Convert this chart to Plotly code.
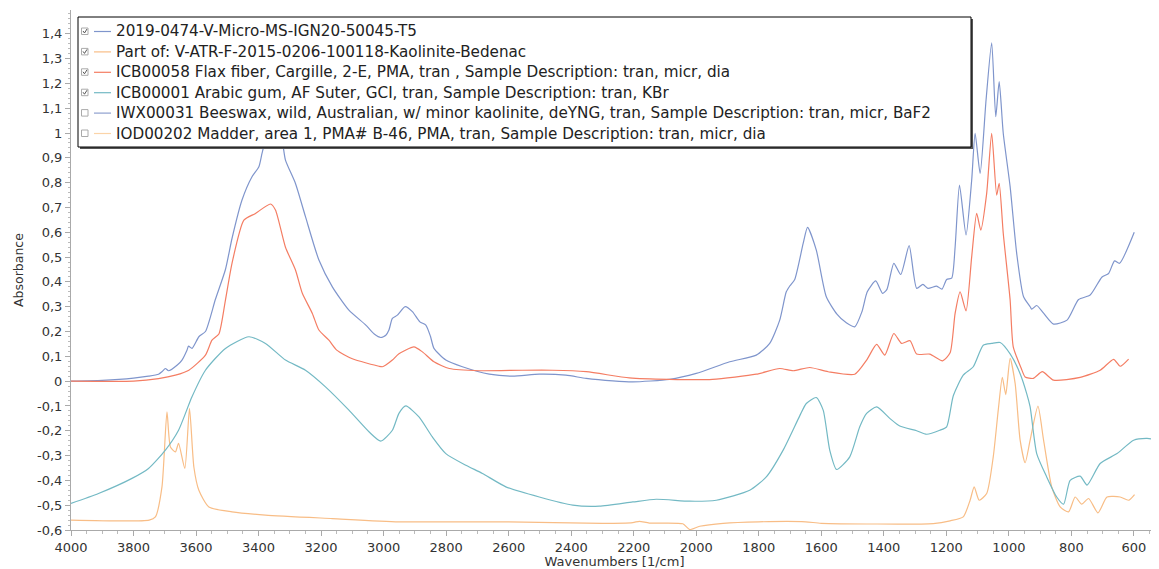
import plotly.graph_objects as go

# --- spectra (wavenumber, absorbance) ---
SAMPLE_X = [4000, 3900, 3800, 3752, 3720, 3709, 3698, 3688, 3660, 3645, 3629, 3624, 3613, 3591,
            3570, 3538, 3506, 3485, 3453, 3421, 3399, 3389, 3378, 3350, 3325, 3314, 3282, 3250,
            3207, 3164, 3111, 3057, 3030, 3009, 2993, 2983, 2972, 2956, 2931, 2908, 2884, 2865,
            2850, 2839, 2801, 2748, 2662, 2588, 2502, 2417, 2352, 2267, 2203, 2086, 2000, 1893,
            1808, 1765, 1733, 1712, 1700, 1685, 1658, 1644, 1616, 1584, 1550, 1520, 1493, 1470,
            1453, 1426, 1404, 1390, 1368, 1346, 1319, 1295, 1275, 1259, 1231, 1214, 1199, 1183,
            1172, 1158, 1137, 1119, 1108, 1092, 1073, 1055, 1042, 1031, 1018, 996, 975, 953, 932,
            927, 911, 889, 857, 814, 777, 740, 702, 681, 662, 646, 599]
SAMPLE_Y = [0.0, 0.003, 0.012, 0.02, 0.028, 0.038, 0.051, 0.042, 0.065, 0.085, 0.125, 0.141, 0.132,
            0.179, 0.2, 0.33, 0.45, 0.575, 0.73, 0.824, 0.864, 0.918, 0.972, 1.05, 0.972, 0.891,
            0.797, 0.663, 0.488, 0.38, 0.286, 0.226, 0.19, 0.176, 0.185, 0.206, 0.253, 0.266, 0.3,
            0.28, 0.239, 0.226, 0.18, 0.132, 0.085, 0.058, 0.028, 0.02, 0.028, 0.024, 0.011, 0.001,
            -0.003, 0.007, 0.031, 0.078, 0.105, 0.152, 0.246, 0.36, 0.385, 0.41, 0.555, 0.62, 0.528,
            0.34, 0.27, 0.235, 0.219, 0.28, 0.36, 0.404, 0.354, 0.37, 0.475, 0.43, 0.546, 0.374,
            0.39, 0.374, 0.383, 0.371, 0.41, 0.415, 0.54, 0.79, 0.589, 0.81, 0.999, 0.837, 1.133,
            1.364, 1.066, 1.207, 0.999, 0.784, 0.515, 0.34, 0.3, 0.29, 0.305, 0.274, 0.23, 0.246,
            0.329, 0.347, 0.42, 0.434, 0.485, 0.475, 0.6]

KAOL_X = [4000, 3750, 3730, 3709, 3693, 3682, 3666, 3656, 3636, 3621, 3607, 3591, 3559, 3485, 3378,
          3164, 2951, 2600, 2300, 2203, 2182, 2150, 2043, 2021, 1989, 1914, 1800, 1650, 1600, 1242,
          1188, 1146, 1124, 1111, 1095, 1071, 1050, 1034, 1021, 1010, 996, 980, 964, 948, 932, 907,
          889, 863, 836, 809, 788, 767, 745, 715, 686, 644, 617, 598]
KAOL_Y = [-0.56, -0.56, -0.547, -0.426, -0.124, -0.265, -0.285, -0.251, -0.352, -0.11, -0.346, -0.44,
          -0.507, -0.527, -0.54, -0.554, -0.567, -0.567, -0.573, -0.57, -0.565, -0.572, -0.575,
          -0.598, -0.585, -0.573, -0.567, -0.567, -0.573, -0.574, -0.563, -0.547, -0.48, -0.426,
          -0.48, -0.453, -0.305, -0.117, 0.015, -0.054, 0.092, -0.009, -0.238, -0.329, -0.238,
          -0.101, -0.238, -0.426, -0.507, -0.527, -0.467, -0.496, -0.473, -0.531, -0.467, -0.467,
          -0.48, -0.457]

FLAX_X = [4000, 3800, 3720, 3666, 3623, 3570, 3549, 3527, 3506, 3485, 3447, 3410, 3362, 3346, 3314,
          3282, 3260, 3228, 3207, 3175, 3150, 3100, 3015, 3004, 2993, 2972, 2951, 2903, 2876, 2839,
          2790, 2694, 2556, 2460, 2352, 2214, 2086, 1948, 1808, 1733, 1690, 1637, 1578, 1493, 1455,
          1423, 1397, 1368, 1343, 1316, 1295, 1253, 1212, 1188, 1172, 1156, 1137, 1119, 1103, 1090,
          1071, 1055, 1039, 1031, 1018, 996, 986, 960, 948, 922, 893, 857, 772, 708, 665, 644, 617]
FLAX_Y = [0.0, 0.0, 0.01, 0.024, 0.044, 0.105, 0.165, 0.19, 0.327, 0.475, 0.649, 0.676, 0.714, 0.69,
          0.54, 0.448, 0.354, 0.273, 0.206, 0.165, 0.125, 0.09, 0.06, 0.058, 0.065, 0.085, 0.11,
          0.138, 0.118, 0.078, 0.051, 0.042, 0.044, 0.044, 0.038, 0.013, 0.007, 0.007, 0.028, 0.051,
          0.042, 0.055, 0.038, 0.028, 0.085, 0.148, 0.105, 0.192, 0.152, 0.163, 0.109, 0.109, 0.082,
          0.114, 0.273, 0.36, 0.283, 0.501, 0.676, 0.609, 0.757, 0.999, 0.75, 0.797, 0.596, 0.327,
          0.138, 0.05, 0.017, 0.011, 0.038, 0.004, 0.015, 0.044, 0.088, 0.06, 0.089]

GUM_X = [4000, 3912, 3805, 3752, 3698, 3656, 3613, 3570, 3506, 3431, 3378, 3314, 3250, 3186, 3111,
         3047, 3009, 2972, 2951, 2929, 2887, 2844, 2801, 2737, 2684, 2609, 2502, 2395, 2310, 2203,
         2128, 2021, 1936, 1829, 1776, 1722, 1669, 1648, 1616, 1594, 1573, 1551, 1509, 1477, 1455,
         1423, 1381, 1349, 1295, 1263, 1221, 1199, 1178, 1146, 1114, 1082, 1055, 1028, 996, 964,
         943, 932, 911, 879, 847, 825, 804, 772, 750, 708, 654, 601, 558, 521]
GUM_Y = [-0.493, -0.453, -0.392, -0.352, -0.278, -0.198, -0.063, 0.044, 0.132, 0.179, 0.152, 0.085,
         0.044, -0.023, -0.117, -0.204, -0.242, -0.198, -0.13, -0.1, -0.144, -0.225, -0.292, -0.339,
         -0.372, -0.426, -0.467, -0.5, -0.504, -0.487, -0.476, -0.484, -0.48, -0.44, -0.386, -0.278,
         -0.14, -0.09, -0.066, -0.117, -0.278, -0.356, -0.305, -0.184, -0.13, -0.104, -0.15, -0.181,
         -0.2, -0.214, -0.198, -0.184, -0.06, 0.024, 0.058, 0.145, 0.152, 0.156, 0.11, 0.03, -0.05,
         -0.104, -0.292, -0.386, -0.467, -0.496, -0.4, -0.383, -0.419, -0.332, -0.292, -0.238,
         -0.231, -0.238]

LEGEND_NAMES = [
    "2019-0474-V-Micro-MS-IGN20-50045-T5",
    "Part of: V-ATR-F-2015-0206-100118-Kaolinite-Bedenac",
    "ICB00058 Flax fiber, Cargille, 2-E, PMA, tran , Sample Description: tran, micr, dia",
    "ICB00001 Arabic gum, AF Suter, GCI, tran, Sample Description: tran, KBr",
    "IWX00031 Beeswax, wild, Australian, w/ minor kaolinite, deYNG, tran, Sample Description: tran, micr, BaF2",
    "IOD00202 Madder, area 1, PMA# B-46, PMA, tran, Sample Description: tran, micr, dia",
]
LEGEND_CHECKED = [True, True, True, True, False, False]
LEGEND_COLORS = ["#7f95cc", "#f8bd86", "#f47d63", "#73b9c4", "#8fa0cf", "#fbd4a8"]

X_TICKS = [4000, 3800, 3600, 3400, 3200, 3000, 2800, 2600, 2400, 2200, 2000, 1800, 1600, 1400,
           1200, 1000, 800, 600]
Y_TICKS = [-0.6, -0.5, -0.4, -0.3, -0.2, -0.1, 0, 0.1, 0.2, 0.3, 0.4, 0.5, 0.6, 0.7, 0.8, 0.9,
           1.0, 1.1, 1.2, 1.3, 1.4]
Y_LABELS = ["-0,6", "-0,5", "-0,4", "-0,3", "-0,2", "-0,1", "0", "0,1", "0,2", "0,3", "0,4", "0,5",
            "0,6", "0,7", "0,8", "0,9", "1", "1,1", "1,2", "1,3", "1,4"]

FONT = "DejaVu Sans"
PAGE = 8  # the page body adds an 8px margin around the figure
W, H = 1159 - PAGE, 569 - PAGE
# plot area in screenshot pixels
L, R, T, B = 71, 1158, 10, 530


def fx(p):
    return (p - L) / (R - L)


def fy(p):
    return (B - p) / (B - T)


fig = go.Figure()
for x, y, c, name in [(SAMPLE_X, SAMPLE_Y, LEGEND_COLORS[0], LEGEND_NAMES[0]),
                      (KAOL_X, KAOL_Y, LEGEND_COLORS[1], LEGEND_NAMES[1]),
                      (FLAX_X, FLAX_Y, LEGEND_COLORS[2], LEGEND_NAMES[2]),
                      (GUM_X, GUM_Y, LEGEND_COLORS[3], LEGEND_NAMES[3])]:
    fig.add_trace(go.Scatter(x=x, y=y, mode='lines', name=name, showlegend=False,
                             line=dict(color=c, width=1.2, shape='spline', smoothing=0.6)))

# hand-drawn legend box with checkboxes, like the desktop app
shapes = [
    dict(type='rect', xref='paper', yref='paper', layer='above',
         x0=fx(80), x1=fx(973), y0=fy(149), y1=fy(19), fillcolor='#555', line=dict(width=0)),
    dict(type='rect', xref='paper', yref='paper', layer='above',
         x0=fx(78), x1=fx(971), y0=fy(147), y1=fy(17), fillcolor='white',
         line=dict(color='black', width=1)),
]
annotations = []
for i, (name, checked, color) in enumerate(zip(LEGEND_NAMES, LEGEND_CHECKED, LEGEND_COLORS)):
    cy = 31.5 + 20.4 * i
    shapes.append(dict(type='rect', xref='paper', yref='paper', layer='above',
                       x0=fx(81.5), x1=fx(88), y0=fy(cy + 3), y1=fy(cy - 3.5),
                       fillcolor='white', line=dict(color='#aaa', width=1)))
    if checked:
        shapes.append(dict(type='path', xref='paper', yref='paper', layer='above',
                           path=f"M {fx(83)},{fy(cy - 0.5)} L {fx(84.5)},{fy(cy + 1.5)} L {fx(87)},{fy(cy - 2.5)}",
                           line=dict(color='#555', width=1)))
    shapes.append(dict(type='line', xref='paper', yref='paper', layer='above',
                       x0=fx(94), x1=fx(111), y0=fy(cy), y1=fy(cy),
                       line=dict(color=color, width=1.2)))
    annotations.append(dict(xref='paper', yref='paper', x=fx(114), y=fy(cy), xanchor='left',
                            yanchor='middle', text=name, showarrow=False,
                            font=dict(family=FONT, size=15.2, color='#222')))

fig.update_layout(
    width=W, height=H,
    margin=dict(l=L - PAGE, r=W - (R - PAGE), t=T - PAGE, b=H - (B - PAGE)),
    plot_bgcolor='white', paper_bgcolor='white',
    font=dict(family=FONT, size=13, color='#333'),
    showlegend=False,
    shapes=shapes,
    annotations=annotations,
)
fig.update_xaxes(
    range=[4000, 523], tickvals=X_TICKS, showgrid=False, zeroline=False,
    showline=True, linecolor='#aaa', ticks='outside', ticklen=5, tickcolor='#aaa',
    minor=dict(dtick=50, ticks='outside', ticklen=3, tickcolor='#bbb'),
    title=dict(text='Wavenumbers [1/cm]', font=dict(size=13), standoff=1),
    automargin=False,
)
fig.update_yaxes(
    range=[-0.6, 1.496], tickvals=Y_TICKS, ticktext=Y_LABELS, showgrid=False, zeroline=False,
    showline=True, linecolor='#aaa', ticks='outside', ticklen=5, tickcolor='#aaa',
    minor=dict(dtick=0.02, ticks='outside', ticklen=2, tickcolor='#bbb'),
    title=dict(text='Absorbance', font=dict(size=12.5), standoff=10),
    automargin=False,
)

fig.write_html("out.html")
